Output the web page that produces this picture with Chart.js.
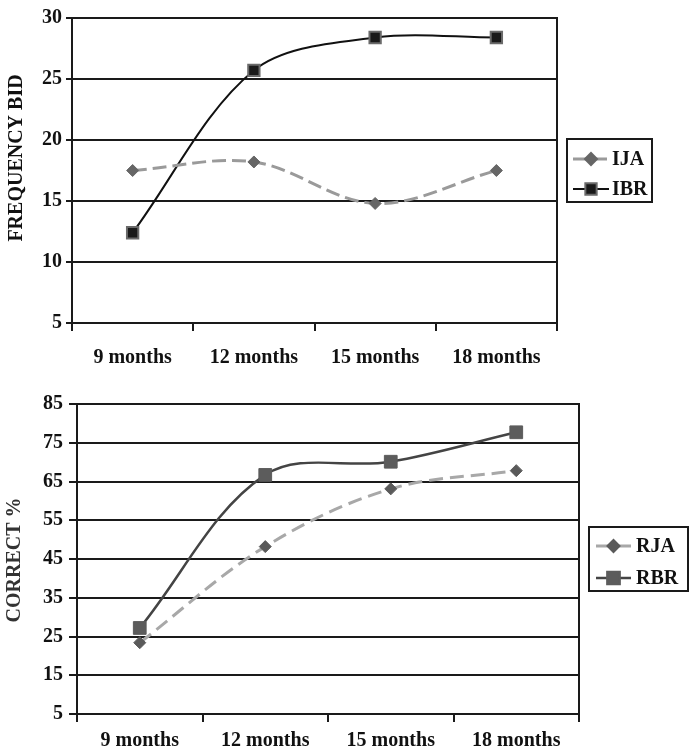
<!DOCTYPE html>
<html><head><meta charset="utf-8">
<script src="https://cdn.jsdelivr.net/npm/chart.js@4"></script>
<style>
html,body{margin:0;padding:0;background:#fff;}
#wrap{position:relative;width:691px;height:755px;overflow:hidden;}
canvas{position:absolute;left:0;}
#c1{top:0;} #c2{top:380px;}
</style></head><body>
<div id="wrap"><canvas id="c1" width="691" height="380"></canvas><canvas id="c2" width="691" height="375"></canvas></div>
<script>
const categories = ['9 months', '12 months', '15 months', '18 months'];
const ijaValues = [17.5, 18.2, 14.8, 17.5];
const ibrValues = [12.4, 25.7, 28.4, 28.4];
const rjaValues = [23.4, 48.2, 63.1, 67.8];
const rbrValues = [27.2, 66.7, 70.1, 77.7];
const freqTicks = [5, 10, 15, 20, 25, 30];
const correctTicks = [5, 15, 25, 35, 45, 55, 65, 75, 85];

const FONT = {family: '"Liberation Serif", "Times New Roman", serif', size: 20, weight: 'bold'};

const frame = {
  id: 'frame',
  afterDraw(chart, args, opts) {
    const ctx = chart.ctx, a = chart.chartArea;
    ctx.save();
    ctx.strokeStyle = '#1a1a1a';
    ctx.lineWidth = 2;
    ctx.beginPath();
    ctx.moveTo(a.right, a.top - 1);
    ctx.lineTo(a.right, a.bottom);
    ctx.stroke();
    // axis title
    ctx.save();
    ctx.translate(opts.title.x, opts.title.y);
    ctx.rotate(-Math.PI / 2);
    ctx.fillStyle = opts.title.color;
    ctx.font = 'bold 20px "Liberation Serif", serif';
    ctx.textAlign = 'center';
    ctx.textBaseline = 'middle';
    ctx.fillText(opts.title.text, 0, 0);
    ctx.restore();
    // legend
    const b = opts.box;
    ctx.lineWidth = 2;
    ctx.strokeStyle = '#1a1a1a';
    ctx.strokeRect(b.x, b.y, b.w, b.h);
    opts.items.forEach(it => {
      const ds = chart.data.datasets[it.ds];
      ctx.save();
      ctx.strokeStyle = ds.borderColor;
      ctx.lineWidth = ds.borderWidth;
      ctx.setLineDash(ds.borderDash || []);
      ctx.beginPath();
      ctx.moveTo(it.x0, it.y);
      ctx.lineTo(it.x1, it.y);
      ctx.stroke();
      ctx.restore();
      ctx.save();
      ctx.fillStyle = ds.pointBackgroundColor;
      ctx.strokeStyle = ds.pointBorderColor;
      Chart.helpers.drawPoint(ctx, {pointStyle: ds.pointStyle, radius: ds.pointRadius, rotation: 0, borderWidth: ds.pointBorderWidth}, (it.x0 + it.x1) / 2, it.y);
      ctx.restore();
      ctx.fillStyle = '#111';
      ctx.font = 'bold 20px "Liberation Serif", serif';
      ctx.textBaseline = 'middle';
      ctx.textAlign = 'left';
      ctx.fillText(ds.label, it.tx, it.y + 1);
    });
    ctx.restore();
  }
};

function makeChart(id, cfg) {
  return new Chart(document.getElementById(id), {
    type: 'line',
    data: {labels: categories, datasets: cfg.datasets},
    plugins: [frame],
    options: {
      responsive: false,
      animation: false,
      devicePixelRatio: 1,
      layout: {padding: cfg.padding},
      plugins: {legend: {display: false}, tooltip: {enabled: false}, frame: cfg.legend},
      scales: {
        x: {
          offset: true,
          afterFit: s => { s.height = cfg.xHeight; },
          grid: {offset: true, drawOnChartArea: false, drawTicks: true, tickLength: 8, color: '#1a1a1a', lineWidth: 2},
          border: {display: true, color: '#1a1a1a', width: 2},
          ticks: {font: FONT, color: '#111', padding: cfg.xPad, maxRotation: 0}
        },
        y: {
          min: cfg.min, max: cfg.max,
          afterBuildTicks: s => { s.ticks = cfg.ticks.map(v => ({value: v})); },
          afterFit: s => { s.width = cfg.yWidth; },
          grid: {color: '#1a1a1a', lineWidth: 2, tickLength: cfg.yTickLen},
          border: {display: true, color: '#1a1a1a', width: 2},
          ticks: {font: FONT, color: '#111', padding: cfg.yPad},
          title: {display: false}
        }
      }
    }
  });
}

makeChart('c1', {
  padding: {left: 4, right: 134, top: 18, bottom: 7},
  xHeight: 50, xPad: 15, yWidth: 68, yTickLen: 6, yPad: 4,
  min: 5, max: 30, ticks: freqTicks,
  datasets: [
    {label: 'IJA', data: ijaValues, borderColor: '#9a9a9a', borderWidth: 3, borderDash: [14, 6], tension: 0.35,
     pointStyle: 'rectRot', pointRadius: 6, pointBackgroundColor: '#666', pointBorderColor: '#666', pointBorderWidth: 1},
    {label: 'IBR', data: ibrValues, borderColor: '#111', borderWidth: 2, tension: 0.33,
     pointStyle: 'rect', pointRadius: 8, pointBackgroundColor: '#1a1a1a', pointBorderColor: '#6a6a6a', pointBorderWidth: 2}
  ],
  legend: {title: {text: 'FREQUENCY BID', x: 17, y: 158, color: '#111'},
    box: {x: 567, y: 139, w: 85, h: 63},
    items: [{ds: 0, x0: 573, x1: 609, y: 159, tx: 612}, {ds: 1, x0: 573, x1: 609, y: 189, tx: 612}]}
});

makeChart('c2', {
  padding: {left: 3, right: 112, top: 24, bottom: 2},
  xHeight: 39, xPad: 7, yWidth: 74, yTickLen: 8, yPad: 6,
  min: 5, max: 85, ticks: correctTicks,
  datasets: [
    {label: 'RJA', data: rjaValues, borderColor: '#a8a8a8', borderWidth: 3, borderDash: [14, 7], tension: 0.35,
     pointStyle: 'rectRot', pointRadius: 6, pointBackgroundColor: '#5a5a5a', pointBorderColor: '#5a5a5a', pointBorderWidth: 1},
    {label: 'RBR', data: rbrValues, borderColor: '#444', borderWidth: 2.5, tension: 0.35,
     pointStyle: 'rect', pointRadius: 9, pointBackgroundColor: '#5c5c5c', pointBorderColor: '#5c5c5c', pointBorderWidth: 1}
  ],
  legend: {title: {text: 'CORRECT %', x: 15, y: 180, color: '#333'},
    box: {x: 589, y: 147, w: 99, h: 64},
    items: [{ds: 0, x0: 596, x1: 631, y: 166, tx: 636}, {ds: 1, x0: 596, x1: 631, y: 198, tx: 636}]}
});
</script>
</body></html>
